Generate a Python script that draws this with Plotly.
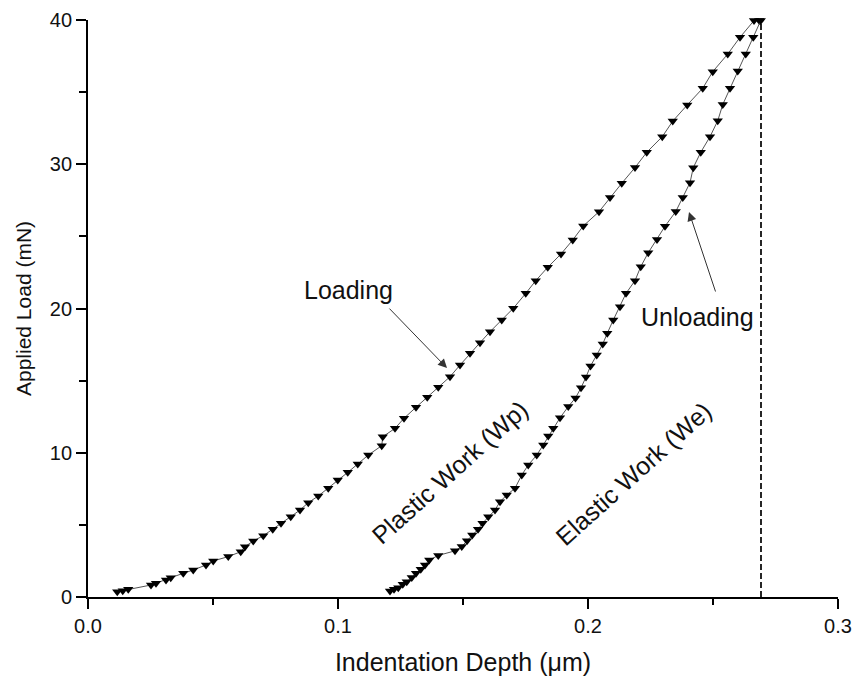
import plotly.graph_objects as go

# Nanoindentation load-displacement curve
load_depth = [0.0117, 0.0139, 0.0161, 0.0252, 0.0272, 0.0312, 0.0331, 0.0381, 0.0421, 0.0472,
              0.0501, 0.0561, 0.0611, 0.0628, 0.0661, 0.0701, 0.0739, 0.0772, 0.0811, 0.0848,
              0.0881, 0.0921, 0.0961, 0.0999, 0.1039, 0.1079, 0.1121, 0.1175, 0.1179, 0.1228,
              0.1264, 0.1312, 0.1357, 0.1401, 0.1448, 0.1488, 0.1528, 0.1568, 0.1608, 0.1655,
              0.1701, 0.1751, 0.1791, 0.1839, 0.1892, 0.1939, 0.1981, 0.2044, 0.2088, 0.2135,
              0.2188, 0.2235, 0.2297, 0.2339, 0.2397, 0.2459, 0.2499, 0.2559, 0.2608, 0.2664,
              0.2685]
load_force = [0.37, 0.44, 0.53, 0.83, 0.95, 1.18, 1.34, 1.64, 1.87, 2.22,
              2.50, 2.80, 3.14, 3.49, 3.88, 4.25, 4.69, 5.11, 5.57, 6.03,
              6.54, 7.00, 7.54, 8.11, 8.64, 9.22, 9.84, 10.49, 11.11, 11.69,
              12.39, 13.15, 13.84, 14.54, 15.27, 16.08, 16.89, 17.63, 18.39, 19.20,
              20.01, 21.05, 21.93, 22.86, 23.78, 24.75, 25.72, 26.71, 27.69, 28.68,
              29.77, 30.83, 31.91, 32.99, 34.11, 35.27, 36.42, 37.64, 38.80, 39.96,
              39.96]

unload_depth = [0.2691, 0.2661, 0.2631, 0.2599, 0.2568, 0.2539, 0.2519, 0.2488, 0.2451, 0.2421,
                0.2408, 0.2379, 0.2351, 0.2308, 0.2276, 0.2241, 0.2211, 0.2188, 0.2152, 0.2128,
                0.2101, 0.2077, 0.2059, 0.2035, 0.2010, 0.1992, 0.1972, 0.1950, 0.1921, 0.1888,
                0.1861, 0.1841, 0.1821, 0.1795, 0.1761, 0.1735, 0.1708, 0.1675, 0.1648, 0.1628,
                0.1601, 0.1578, 0.1560, 0.1537, 0.1516, 0.1495, 0.1468, 0.1401, 0.1365, 0.1348,
                0.1331, 0.1312, 0.1295, 0.1275, 0.1259, 0.1241, 0.1224, 0.1208]
unload_force = [39.96, 38.80, 37.64, 36.46, 35.27, 34.14, 33.02, 31.91, 30.83, 29.76,
                28.72, 27.69, 26.72, 25.70, 24.78, 23.87, 22.90, 21.93, 21.05, 20.12,
                19.20, 18.28, 17.54, 16.78, 16.01, 15.25, 14.50, 13.80, 13.20, 12.42,
                11.70, 11.16, 10.54, 9.84, 9.15, 8.46, 7.54, 7.07, 6.61, 6.03,
                5.57, 5.11, 4.69, 4.30, 3.90, 3.50, 3.20, 2.88, 2.56, 2.22,
                1.92, 1.64, 1.36, 1.06, 0.88, 0.64, 0.53, 0.42]

max_depth = 0.2692
max_load = 40.0

x_ticks = [0.0, 0.1, 0.2, 0.3]
x_tick_text = ["0.0", "0.1", "0.2", "0.3"]
y_ticks = [0, 10, 20, 30, 40]
y_tick_text = ["0", "10", "20", "30", "40"]

FONT = "Liberation Sans, Arial, sans-serif"
INK = "#111111"

fig = go.Figure()

marker_style = dict(symbol="triangle-down", size=9, color="black", line=dict(width=0))
line_style = dict(color="#555555", width=1)

fig.add_trace(go.Scatter(x=load_depth, y=load_force, mode="lines+markers",
                         line=line_style, marker=marker_style, cliponaxis=False,
                         name="Loading", showlegend=False))
fig.add_trace(go.Scatter(x=unload_depth, y=unload_force, mode="lines+markers",
                         line=line_style, marker=marker_style, cliponaxis=False,
                         name="Unloading", showlegend=False))

# Maximum-depth reference line
fig.add_trace(go.Scatter(x=[max_depth, max_depth], y=[0, max_load], mode="lines",
                         line=dict(color="black", width=1.7, dash="6px,3px"),
                         cliponaxis=False, showlegend=False, hoverinfo="skip"))

axis_common = dict(showline=True, linecolor="black", linewidth=1.8, mirror=False,
                   showgrid=False, zeroline=False, ticks="outside", ticklen=10,
                   tickwidth=1.5, tickcolor="black", automargin=False,
                   tickfont=dict(family=FONT, size=20, color=INK))

fig.update_layout(
    width=854, height=679,
    margin=dict(l=88, r=16, t=20, b=82),
    paper_bgcolor="white", plot_bgcolor="white",
    xaxis=dict(range=[0, 0.3], tickvals=x_ticks, ticktext=x_tick_text,
               minor=dict(dtick=0.05, ticks="outside", ticklen=6, tickwidth=1.5, tickcolor="black"),
               title=dict(text="Indentation Depth (\u03bcm)", standoff=18,
                          font=dict(family=FONT, size=25, color=INK)),
               **axis_common),
    yaxis=dict(range=[0, 40], tickvals=y_ticks, ticktext=y_tick_text,
               minor=dict(dtick=5, ticks="outside", ticklen=7, tickwidth=1.5, tickcolor="black"),
               title=dict(text="Applied Load (mN)", standoff=12,
                          font=dict(family=FONT, size=21, color=INK)),
               **axis_common),
)

text_font = dict(family=FONT, size=25, color=INK)
rot_font = dict(family=FONT, size=25, color=INK)

annotations = [
    # labels
    dict(x=0.1040, y=21.28, text="Loading", showarrow=False, font=text_font),
    dict(x=0.2436, y=19.41, text="Unloading", showarrow=False, font=text_font),
    dict(x=0.1448, y=8.67, text="Plastic Work (Wp)", showarrow=False, textangle=-42, font=rot_font),
    dict(x=0.2180, y=8.53, text="Elastic Work (We)", showarrow=False, textangle=-42, font=rot_font),
    # arrows
    dict(x=0.1436, y=15.87, text="", showarrow=True, ax=-59, ay=-61,
         arrowhead=2, arrowsize=1.8, arrowwidth=1, arrowcolor="#333333", standoff=0),
    dict(x=0.2404, y=26.69, text="", showarrow=True, ax=27, ay=81,
         arrowhead=2, arrowsize=1.8, arrowwidth=1, arrowcolor="#333333", standoff=0),
]
fig.update_layout(annotations=annotations)

fig.write_html("out.html")
